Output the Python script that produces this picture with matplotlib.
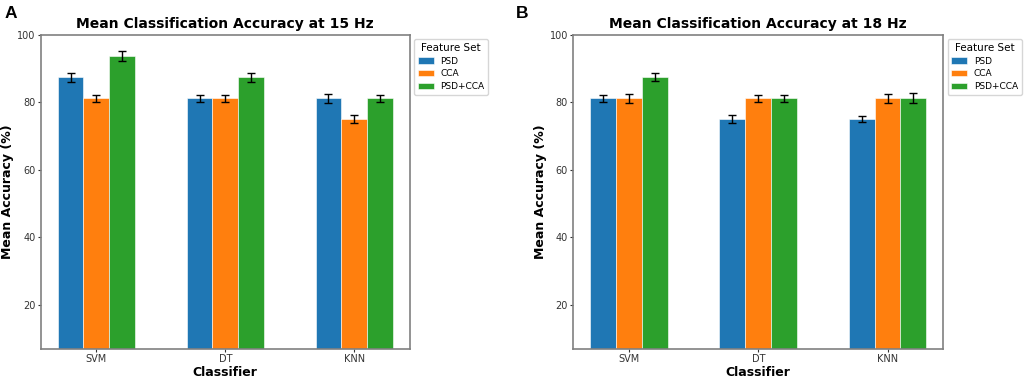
import numpy as np
import matplotlib
matplotlib.use("Agg")
import matplotlib.pyplot as plt

# Data
classifiers = ["SVM", "DT", "KNN"]
feature_sets = ["PSD", "CCA", "PSD+CCA"]

acc_15_psd = [87.5, 81.25, 81.25]
acc_15_cca = [81.25, 81.25, 75.0]
acc_15_both = [93.75, 87.5, 81.25]
err_15_psd = [1.3, 1.0, 1.4]
err_15_cca = [1.0, 1.1, 1.2]
err_15_both = [1.6, 1.3, 1.0]

acc_18_psd = [81.25, 75.0, 75.0]
acc_18_cca = [81.25, 81.25, 81.25]
acc_18_both = [87.5, 81.25, 81.25]
err_18_psd = [1.1, 1.2, 0.9]
err_18_cca = [1.3, 1.0, 1.3]
err_18_both = [1.2, 1.1, 1.5]

colors = ["#1f77b4", "#ff7f0e", "#2ca02c"]


def draw_panel(ax, means, errs, title):
    x = np.arange(len(classifiers))
    width = 0.2
    for i, (m, e) in enumerate(zip(means, errs)):
        ax.bar(x + (i - 1) * width, m, width, yerr=e, capsize=3,
               color=colors[i], edgecolor="white", linewidth=0.4,
               error_kw=dict(elinewidth=1, capthick=1, ecolor="black"),
               label=feature_sets[i])
    ax.set_xticks(x)
    ax.set_xticklabels(classifiers)
    ax.set_ylim(7, 100)
    ax.set_yticks([20, 40, 60, 80, 100])
    ax.tick_params(labelsize=7, colors="#333333", length=2.5, pad=1.5)
    ax.set_title(title, fontsize=10, fontweight="bold", pad=5)
    ax.set_xlabel("Classifier", fontsize=9, fontweight="bold", labelpad=1)
    ax.set_ylabel("Mean Accuracy (%)", fontsize=9, fontweight="bold",
                  labelpad=2)
    for s in ax.spines.values():
        s.set_color("#808080")
        s.set_linewidth(1.2)
    ax.legend(title="Feature Set", loc="upper left",
              bbox_to_anchor=(1.0, 1.0), fontsize=6.5,
              title_fontsize=7.5, labelspacing=0.4, borderpad=0.4,
              handlelength=1.8, handletextpad=0.7)


fig = plt.figure(figsize=(10.24, 3.8), dpi=100)
ax1 = fig.add_axes([0.040, 0.082, 0.360, 0.826])
ax2 = fig.add_axes([0.560, 0.082, 0.361, 0.826])

draw_panel(ax1, [acc_15_psd, acc_15_cca, acc_15_both],
           [err_15_psd, err_15_cca, err_15_both],
           "Mean Classification Accuracy at 15 Hz")
draw_panel(ax2, [acc_18_psd, acc_18_cca, acc_18_both],
           [err_18_psd, err_18_cca, err_18_both],
           "Mean Classification Accuracy at 18 Hz")

fig.text(0.004, 0.985, "A", fontsize=12.5, fontweight="bold",
         family="Liberation Sans", va="top", ha="left")
fig.text(0.504, 0.985, "B", fontsize=12.5, fontweight="bold",
         family="Liberation Sans", va="top", ha="left")

fig.savefig("out.png", dpi=100)
